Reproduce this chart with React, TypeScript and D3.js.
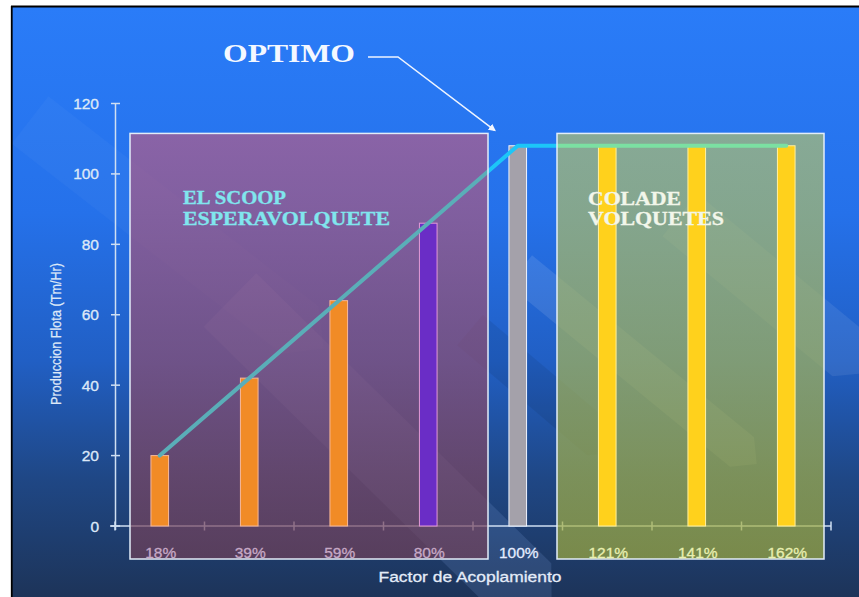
import React from "react";
import * as d3 from "d3";

// Factor de acoplamiento (categories) and fleet production (Tm/Hr)
const categories = ["18%", "39%", "59%", "80%", "100%", "121%", "141%", "162%"];
const production = [20, 42, 64, 86, 108, 108, 108, 108];
const zone = ["scoop", "scoop", "scoop", "scoop", "optimo", "cola", "cola", "cola"];
const yTicks = [0, 20, 40, 60, 80, 100, 120];

const W = 859;
const H = 597;

const x = d3.scaleBand<string>().domain(categories).range([115, 831]);
const y = d3.scaleLinear().domain([0, 120]).range([526, 103.5]);
const barW = x.bandwidth() * 0.197;
const cx = (c: string) => (x(c) as number) + x.bandwidth() / 2;

const barFill = (i: number) =>
  i === 3 ? "#6a2dc6" : zone[i] === "scoop" ? "#f18b26" : zone[i] === "optimo" ? "#a4a1aa" : "#ffd11c";
const barStroke = (i: number) =>
  i === 3 ? "#e39ad6" : zone[i] === "scoop" ? "#f6b89a" : zone[i] === "optimo" ? "#eef4ff" : "#fff0a0";
const labelFill = (i: number) =>
  zone[i] === "scoop" ? "#c7a9c6" : zone[i] === "optimo" ? "#e4ecff" : "#e8efb0";

// decorative diagonal ribbons of the slide background
const ribbons = [
  { x1: 520, y1: 270, x2: 742, y2: 452, w: 38, c: "#ffffff", o: 0.1 },
  { x1: 680, y1: 215, x2: 850, y2: 355, w: 55, c: "#ffffff", o: 0.08 },
  { x1: 230, y1: 300, x2: 525, y2: 590, w: 75, c: "#9fc0ff", o: 0.14 },
  { x1: 30, y1: 120, x2: 300, y2: 330, w: 60, c: "#ffffff", o: 0.03 },
  { x1: 470, y1: 330, x2: 600, y2: 440, w: 40, c: "#000000", o: 0.07 },
];

function ribbonPath(r: { x1: number; y1: number; x2: number; y2: number; w: number }) {
  const dx = r.x2 - r.x1;
  const dy = r.y2 - r.y1;
  const len = Math.hypot(dx, dy);
  const nx = (-dy / len) * (r.w / 2);
  const ny = (dx / len) * (r.w / 2);
  return `M${r.x1 + nx},${r.y1 + ny}L${r.x2 + nx},${r.y2 + ny}L${r.x2 + r.w * 0.5 * dx / len},${r.y2 + r.w * 0.5 * dy / len}L${r.x2 - nx},${r.y2 - ny}L${r.x1 - nx},${r.y1 - ny}Z`;
}

export default function App() {
  const lineGen = d3
    .line<number>()
    .x((_, i) => cx(categories[i]))
    .y((d) => y(d))
    .curve(d3.curveLinear);
  const linePath = lineGen(production) as string;

  const boxTop = y(111.5);
  const boxBottom = 559;
  const leftBox = { x0: (x("18%") as number) + 15, x1: (x("80%") as number) + x.bandwidth() + 15 };
  const rightBox = { x0: (x("121%") as number) - 5.5, x1: (x("162%") as number) + x.bandwidth() - 7 };

  const sans = "'Liberation Sans', Arial, sans-serif";
  const serif = "'Liberation Serif', 'Times New Roman', serif";

  return (
    <svg
      width={W}
      height={H}
      viewBox={`0 0 ${W} ${H}`}
      style={{ position: "absolute", left: 0, top: 0, display: "block" }}
    >
      <defs>
        <linearGradient id="bg" x1="0" y1="0" x2="0" y2="1">
          <stop offset="0" stopColor="#2a7cf8" />
          <stop offset="0.35" stopColor="#2571ea" />
          <stop offset="0.6" stopColor="#215fc4" />
          <stop offset="0.8" stopColor="#1f4785" />
          <stop offset="1" stopColor="#1d3459" />
        </linearGradient>
        <linearGradient id="purpleBox" x1="0" y1="0" x2="0" y2="1">
          <stop offset="0" stopColor="rgb(180,92,136)" />
          <stop offset="1" stopColor="rgb(112,64,88)" />
        </linearGradient>
        <linearGradient id="greenBox" x1="0" y1="0" x2="0" y2="1">
          <stop offset="0" stopColor="rgb(176,192,112)" />
          <stop offset="1" stopColor="rgb(160,172,62)" />
        </linearGradient>
        <linearGradient id="lineGrad" gradientUnits="userSpaceOnUse" x1="0" y1="0" x2={W} y2="0">
          <stop offset={leftBox.x1 / W} stopColor="#5aaeb8" />
          <stop offset={leftBox.x1 / W} stopColor="#1cc6f8" />
          <stop offset={rightBox.x0 / W} stopColor="#1cc6f8" />
          <stop offset={rightBox.x0 / W} stopColor="#7be0a2" />
        </linearGradient>
        <clipPath id="panel">
          <rect x={12} y={7} width={W - 12} height={H - 7} />
        </clipPath>
        <marker id="arrow" viewBox="0 0 10 10" refX="8" refY="5" markerWidth="5" markerHeight="5" orient="auto">
          <path d="M0,0L10,5L0,10Z" fill="#f2f6ff" />
        </marker>
      </defs>

      <rect x={0} y={0} width={W} height={H} fill="#ffffff" />
      <rect x={12} y={7} width={W - 12} height={H - 7} fill="url(#bg)" />
      <g clipPath="url(#panel)">
        {ribbons.map((r, i) => (
          <path key={i} d={ribbonPath(r)} fill={r.c} opacity={r.o} />
        ))}
      </g>

      {/* axes */}
      <g stroke="#cfdff2" strokeWidth={1.5} fill="none">
        <line x1={115.5} x2={115.5} y1={y(120)} y2={y(0) + 4} />
        {yTicks.map((t) => (
          <line key={t} x1={111} x2={120} y1={y(t)} y2={y(t)} />
        ))}
        <line x1={110} x2={831} y1={y(0)} y2={y(0)} />
        {d3.range(categories.length + 1).map((k) => {
          const xx = 115 + k * x.step();
          return <line key={k} x1={xx} x2={xx} y1={y(0) - 4.5} y2={y(0) + 4.5} />;
        })}
      </g>
      <g fontFamily={sans} fontSize={15.5} fill="#dde8f8" stroke="#dde8f8" strokeWidth={0.35} textAnchor="end">
        {yTicks.map((t) => (
          <text key={t} x={99} y={y(t)} dy="0.36em">
            {t}
          </text>
        ))}
      </g>
      <text
        transform={`translate(61,334) rotate(-90)`}
        fontFamily={sans}
        fontSize={14}
        fill="#dde8f8"
        stroke="#dde8f8"
        strokeWidth={0.25}
        textAnchor="middle"
        textLength={142}
        lengthAdjust="spacingAndGlyphs"
      >
        Produccion Flota (Tm/Hr)
      </text>

      {/* zone boxes */}
      <rect x={leftBox.x0} y={boxTop} width={leftBox.x1 - leftBox.x0} height={boxBottom - boxTop} fill="url(#purpleBox)" opacity={0.7} />
      <rect x={rightBox.x0} y={boxTop} width={rightBox.x1 - rightBox.x0} height={boxBottom - boxTop} fill="url(#greenBox)" opacity={0.7} />

      {/* bars */}
      {production.map((v, i) => (
        <rect
          key={categories[i]}
          x={cx(categories[i]) - barW / 2}
          y={y(v)}
          width={barW}
          height={y(0) - y(v)}
          fill={barFill(i)}
          stroke={barStroke(i)}
          strokeWidth={1}
        />
      ))}

      {/* production line */}
      <path d={linePath} fill="none" stroke="url(#lineGrad)" strokeWidth={4} strokeLinejoin="round" strokeLinecap="round" />

      <g fill="none" stroke="#e2edf9" strokeWidth={1.5}>
        <rect x={leftBox.x0} y={boxTop} width={leftBox.x1 - leftBox.x0} height={boxBottom - boxTop} />
        <rect x={rightBox.x0} y={boxTop} width={rightBox.x1 - rightBox.x0} height={boxBottom - boxTop} />
      </g>

      {/* category labels */}
      <g fontFamily={sans} fontSize={15.5} textAnchor="middle">
        {categories.map((c, i) => (
          <text key={c} x={cx(c) + 1} y={557.5} fill={labelFill(i)} stroke={labelFill(i)} strokeWidth={0.3}>
            {c}
          </text>
        ))}
      </g>
      <text
        x={470}
        y={582}
        fontFamily={sans}
        fontSize={15.5}
        fill="#e4ecf8"
        stroke="#e4ecf8"
        strokeWidth={0.3}
        textAnchor="middle"
        textLength={183}
        lengthAdjust="spacingAndGlyphs"
      >
        Factor de Acoplamiento
      </text>

      {/* zone captions */}
      <g fontFamily={serif} fontWeight="bold" fontSize={18} fill="#80e6ee" stroke="#80e6ee" strokeWidth={0.3}>
        <text x={183} y={204} textLength={103} lengthAdjust="spacingAndGlyphs">EL SCOOP</text>
        <text x={183} y={225} textLength={207} lengthAdjust="spacingAndGlyphs">ESPERAVOLQUETE</text>
      </g>
      <g fontFamily={serif} fontWeight="bold" fontSize={18} fill="#f2f6ea" stroke="#f2f6ea" strokeWidth={0.3}>
        <text x={588} y={205} textLength={93} lengthAdjust="spacingAndGlyphs">COLADE</text>
        <text x={588} y={225} textLength={136} lengthAdjust="spacingAndGlyphs">VOLQUETES</text>
      </g>

      <text
        x={289}
        y={62}
        fontFamily={serif}
        fontWeight="bold"
        fontSize={25}
        fill="#f4f8ff"
        textAnchor="middle"
        textLength={132}
        lengthAdjust="spacingAndGlyphs"
      >
        OPTIMO
      </text>
      <path
        d={`M368,57L398,57L${cx("100%") - 23},${boxTop - 3}`}
        fill="none"
        stroke="#eef4ff"
        strokeWidth={1.5}
        markerEnd="url(#arrow)"
      />

      {/* slide frame */}
      <line x1={11.75} x2={11.75} y1={6} y2={H} stroke="#000" strokeWidth={1.8} />
      <line x1={11} x2={W} y1={6.5} y2={6.5} stroke="#000" strokeWidth={1.8} />
    </svg>
  );
}
